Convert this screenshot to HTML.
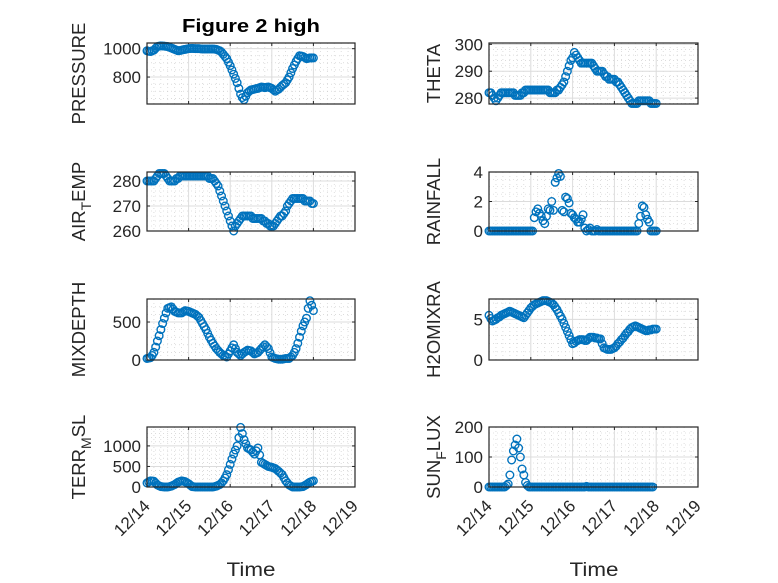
<!DOCTYPE html>
<html><head><meta charset="utf-8"><style>
body{margin:0;background:#fff}
svg{display:block;font-family:"Liberation Sans","DejaVu Sans",sans-serif}
</style></head><body>
<svg id="fig" width="778" height="583" viewBox="0 0 778 583" xmlns="http://www.w3.org/2000/svg">
<rect width="778" height="583" fill="#fff"/>
<text x="251" y="32" text-anchor="middle" font-size="18" font-weight="bold" fill="#000" textLength="138" lengthAdjust="spacingAndGlyphs">Figure 2 high</text>
<text x="251" y="576" text-anchor="middle" font-size="19" fill="#262626" textLength="49" lengthAdjust="spacingAndGlyphs">Time</text>
<text x="594" y="576" text-anchor="middle" font-size="19" fill="#262626" textLength="49" lengthAdjust="spacingAndGlyphs">Time</text>
</svg>
<script>
const xTickLabels = ["12/14","12/15","12/16","12/17","12/18","12/19"];
const hoursStep = 1;
const pressure = [985,982,980,985,990,1003,1015,1018,1020,1019,1018,1016,1015,1010,1005,1000,995,990,985,987,990,993,995,998,
1000,1001,1002,1001,1000,1000,1000,999,998,998,998,998,998,998,998,997,995,990,985,975,960,945,930,905,
880,850,820,790,760,720,680,655,640,665,690,700,710,712,715,718,720,725,730,728,725,728,730,725,
720,710,700,708,715,728,740,750,760,780,800,830,860,885,910,930,950,948,945,938,930,932,935,935,935];
const airTemp = [280,280,280,280,280,281,282,283,283,283,283,282,281,280,280,280,280,281,281,282,282,282,282,282,
282,282,282,282,282,282,282,282,282,282,282,282,281,281,281,280,279,278,276,274,272,270,268,266,
264,262,260,262,263,264,265,266,266,266,266,266,266,265,265,265,265,265,265,264,264,263,263,262,
262,262,263,264,265,266,266,267,268,270,271,272,273,273,273,273,273,273,273,272,272,272,272,271,271];
const mixDepth = [20,25,30,60,100,170,250,320,400,480,550,620,680,690,700,670,640,630,620,620,620,635,650,645,
640,630,620,610,600,580,560,520,480,440,400,350,300,260,220,185,150,125,100,80,60,50,40,80,
120,160,200,150,100,80,60,80,100,115,130,125,120,100,80,90,100,125,150,175,200,175,150,95,
40,30,20,15,10,10,10,15,20,20,20,40,60,100,150,220,300,380,450,500,550,680,780,720,650];
const terrMsl = [100,125,150,145,140,95,50,30,10,5,0,0,0,10,20,40,60,90,120,135,150,140,130,105,
80,45,10,5,0,0,0,0,0,0,0,0,0,0,0,10,20,40,60,100,150,220,300,420,
550,680,800,900,1000,1200,1450,1300,1150,1050,950,925,900,850,800,880,950,780,600,575,550,525,500,490,
480,465,450,415,380,340,300,225,150,100,50,25,0,0,0,0,0,5,10,35,60,90,120,135,150];
const theta = [282,282,281,280,279,280,281,282,282,282,282,282,282,282,282,281,281,281,281,282,282,283,283,283,
283,283,283,283,283,283,283,283,283,283,283,282,282,282,282,283,283,284,285,286,288,290,292,294,
295,297,296,295,294,293,293,293,293,293,293,293,292,291,290,290,290,290,289,288,288,287,287,287,
287,286,286,285,284,283,282,281,280,279,278,278,278,278,279,279,279,279,279,279,279,278,278,278,278];
const rainfall = [0,0,0,0,0,0,0,0,0,0,0,0,0,0,0,0,0,0,0,0,0,0,0,0,0,0,
0.9,1.3,1.5,1.2,1.0,0.7,0.5,1.0,1.5,1.4,2.0,1.4,3.3,3.6,3.9,3.7,1.4,1.3,2.3,2.2,1.9,1.2,1.1,0.9,0.8,0.6,0.6,0.8,1.1,0.2,0,0.1,0.2,0,0,0,0.1,
0,0,0,0,0,0,0,0,0,0,0,0,0,0,0,0,0,0,0,0,0,0,0,
0.5,1.0,1.7,1.6,1.1,0.8,0.6,0,0,0,0];
const h2oMix = [5.5,5.1,4.8,4.9,5.0,5.2,5.3,5.5,5.6,5.7,5.8,5.9,6.0,5.9,5.8,5.7,5.6,5.5,5.4,5.3,5.2,5.5,5.8,6.1,
6.4,6.6,6.8,6.9,7.0,7.1,7.2,7.3,7.3,7.3,7.2,7.1,7.0,6.8,6.5,6.2,5.8,5.4,5.0,4.5,4.0,3.5,3.0,2.5,
2.0,2.1,2.3,2.4,2.5,2.5,2.5,2.4,2.4,2.6,2.8,2.8,2.8,2.7,2.7,2.6,2.6,2.0,1.5,1.4,1.3,1.3,1.3,1.4,
1.5,1.7,2.0,2.2,2.5,2.7,3.0,3.3,3.5,3.8,4.0,4.1,4.2,4.1,4.0,3.9,3.8,3.7,3.6,3.6,3.7,3.7,3.8,3.8,3.8];
const sunFlux = [0,0,0,0,0,0,0,0,0,0,
5,10,40,90,120,140,160,130,100,60,40,15,5,
0,0,0,0,0,0,0,0,0,0,0,0,0,0,0,0,0,0,0,0,0,0,0,0,0,0,0,0,0,0,0,0,0,
2,
0,0,0,0,0,0,0,0,0,0,0,0,0,0,0,0,0,0,0,0,0,0,0,0,0,0,0,0,0,0,0,0,0,0,0,0,0,0];

const NS="http://www.w3.org/2000/svg";
const svg=document.getElementById('fig');
function mk(tag,attrs,parent){const e=document.createElementNS(NS,tag);for(const k in attrs)e.setAttribute(k,attrs[k]);(parent||svg).appendChild(e);return e;}

const cols=[{x0:147,x1:355},{x0:489,x1:698}];
const rows=[{y0:43,y1:104},{y0:172,y1:231},{y0:299,y1:360},{y0:427,y1:487}];
const panels=[
 {name:"pressure",c:0,r:0,data:pressure,lim:[610,1040],ticks:[800,1000],minor:50,label:["PRESSURE"]},
 {name:"air-temp",c:0,r:1,data:airTemp,lim:[260,283.6],ticks:[260,270,280],minor:2,label:["AIR","T","EMP"]},
 {name:"mixdepth",c:0,r:2,data:mixDepth,lim:[0,803],ticks:[0,500],minor:100,label:["MIXDEPTH"]},
 {name:"terr-msl",c:0,r:3,data:terrMsl,lim:[0,1460],ticks:[0,500,1000],minor:100,label:["TERR","M","SL"]},
 {name:"theta",c:1,r:0,data:theta,lim:[277.8,300.5],ticks:[280,290,300],minor:2,label:["THETA"]},
 {name:"rainfall",c:1,r:1,data:rainfall,lim:[0,4],ticks:[0,2,4],minor:0.5,label:["RAINFALL"]},
 {name:"h2omixra",c:1,r:2,data:h2oMix,lim:[0,7.5],ticks:[0,5],minor:1,label:["H2OMIXRA"]},
 {name:"sun-flux",c:1,r:3,data:sunFlux,lim:[0,200],ticks:[0,100,200],minor:20,label:["SUN","F","LUX"]}
];

panels.forEach(p=>{
 const {x0,x1}=cols[p.c],{y0,y1}=rows[p.r];
 const xs=d=>x0+(x1-x0)*d/5;
 const ys=v=>y1-(y1-y0)*(v-p.lim[0])/(p.lim[1]-p.lim[0]);
 const g=mk('g',{});
 
 
 for(let k=1;k<30;k++){if(k%6===0)continue;const x=xs(k/6);
  mk('line',{x1:x,x2:x,y1:y0,y2:y1,stroke:'#c8c8c8','stroke-width':0.6,'stroke-dasharray':'1 3'},g);}
 for(let v=Math.ceil(p.lim[0]/p.minor)*p.minor;v<=p.lim[1];v+=p.minor){
  if(p.ticks.some(t=>Math.abs(t-v)<1e-6))continue;const y=ys(v);
  mk('line',{x1:x0,x2:x1,y1:y,y2:y,stroke:'#c8c8c8','stroke-width':0.6,'stroke-dasharray':'1 3'},g);}
 for(let d=1;d<5;d++){const x=xs(d);mk('line',{x1:x,x2:x,y1:y0,y2:y1,stroke:'#dcdcdc','stroke-width':1},g);}
 p.ticks.forEach(t=>{const y=ys(t);mk('line',{x1:x0,x2:x1,y1:y,y2:y,stroke:'#dcdcdc','stroke-width':1},g);
  const tl=mk('text',{x:x0-6,y:y+6,'text-anchor':'end','font-size':17,fill:'#262626'},g);tl.textContent=t;
  
  
  mk('line',{x1:x0,x2:x0+3,y1:y,y2:y,stroke:'#262626'},g);mk('line',{x1:x1,x2:x1-3,y1:y,y2:y,stroke:'#262626'},g);});
 for(let d=0;d<=5;d++){const x=xs(d);mk('line',{x1:x,x2:x,y1:y1,y2:y1-3,stroke:'#262626'},g);mk('line',{x1:x,x2:x,y1:y0,y2:y0+3,stroke:'#262626'},g);}
 p.data.forEach((v,i)=>{const c=mk('circle',{cx:xs(i*hoursStep/24),cy:ys(v),r:3.8,fill:'none',stroke:'#0072BD','stroke-width':1.4},g);
  
  });
 mk('rect',{x:x0,y:y0,width:x1-x0,height:y1-y0,fill:'none',stroke:'#262626','stroke-width':1.2},g);
 const lx=p.c===0?85:440, ly=(y0+y1)/2;
 const lab=mk('text',{x:lx,y:ly,'text-anchor':'middle','font-size':18.5,fill:'#262626',transform:`rotate(-90 ${lx} ${ly})`},g);
 
 
 if(p.label.length===1){lab.textContent=p.label[0];}
 else{const a=mk('tspan',{},lab);a.textContent=p.label[0];
  const b=mk('tspan',{'font-size':14,dy:6},lab);b.textContent=p.label[1];
  const c=mk('tspan',{dy:-6},lab);c.textContent=p.label[2];}
 if(p.r===3){xTickLabels.forEach((t,d)=>{const x=xs(d)+4,y=y1+20;
  const tl=mk('text',{x:x,y:y,'text-anchor':'end','font-size':17,fill:'#262626',transform:`rotate(-45 ${x} ${y})`},g);
  tl.textContent=t;
  
  });}
});
</script>
</body></html>
